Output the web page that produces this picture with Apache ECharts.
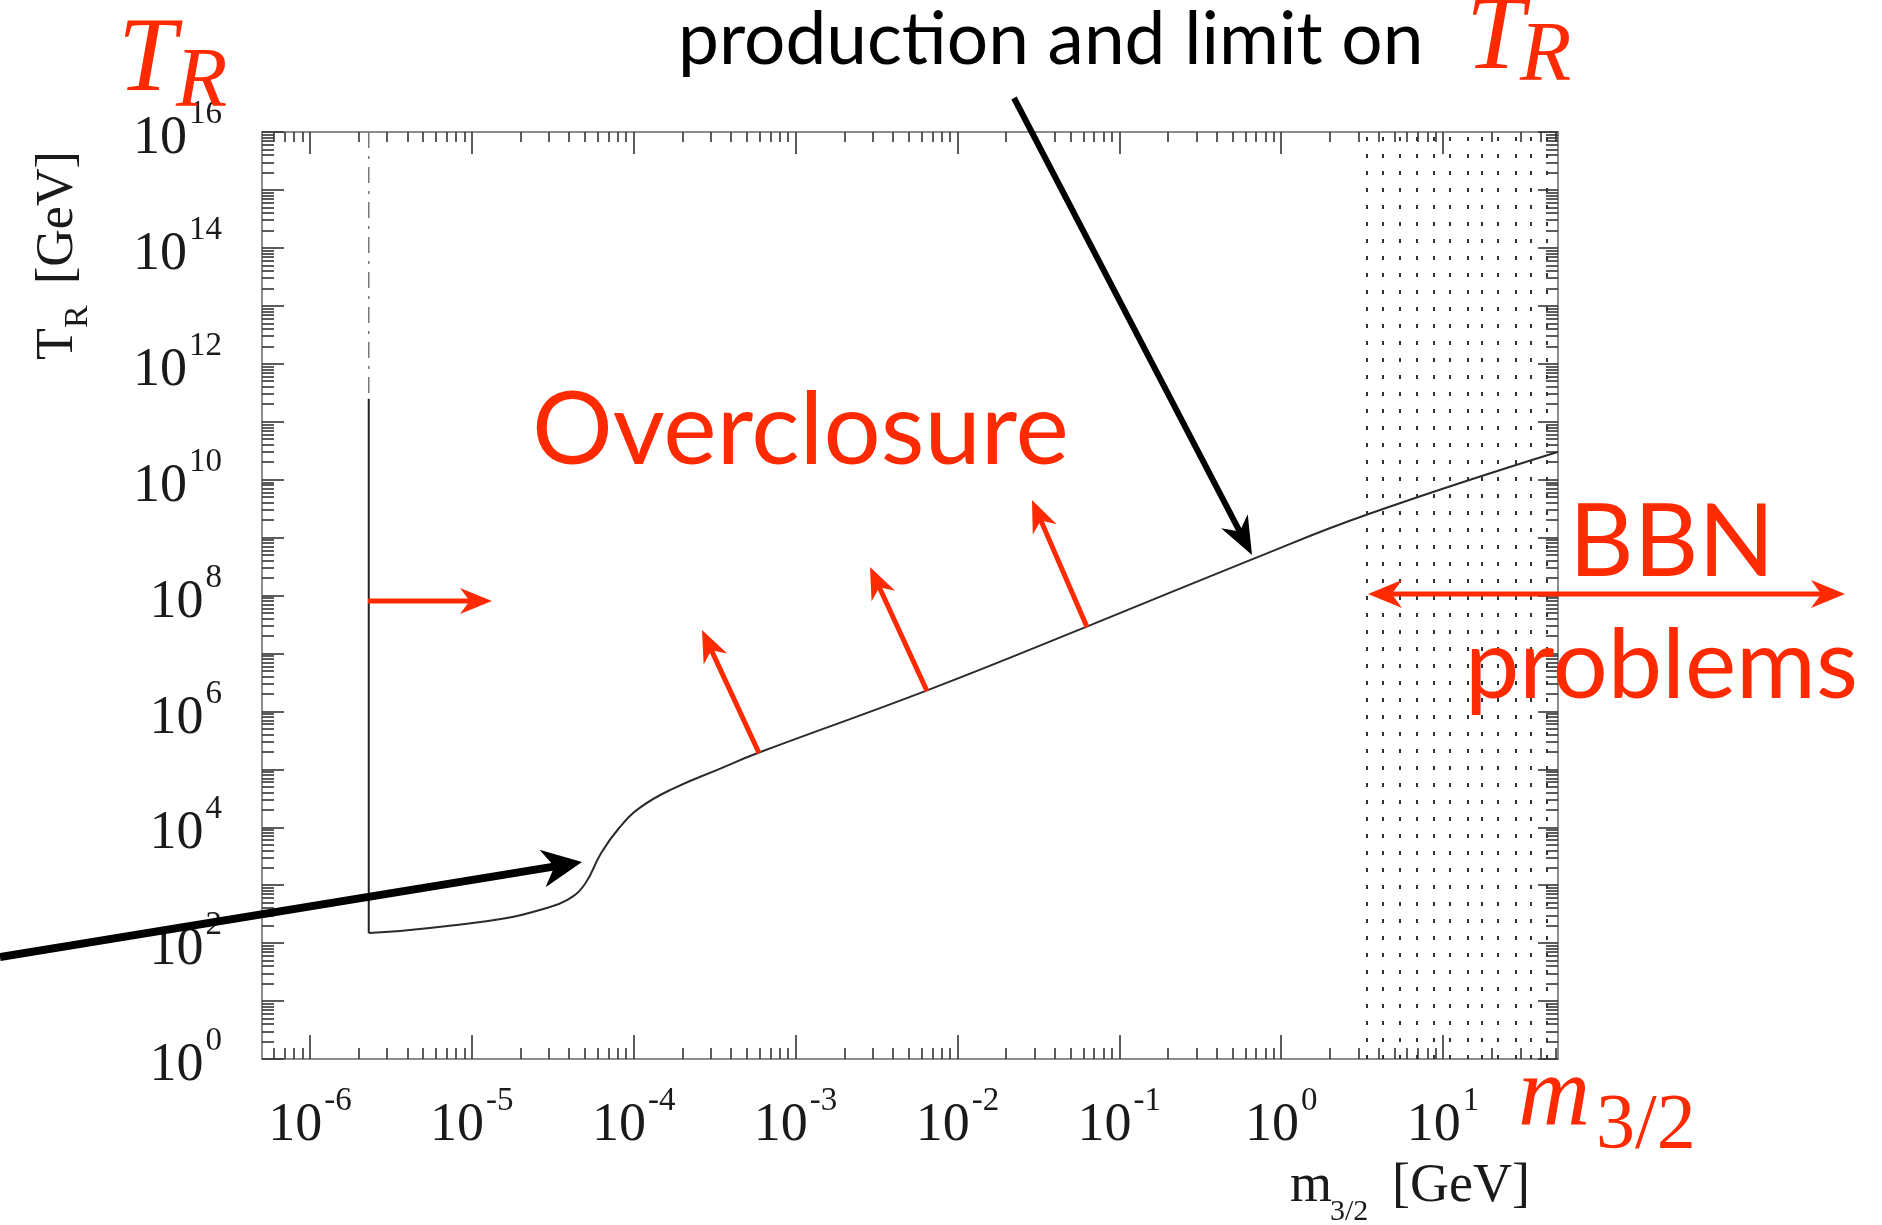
<!DOCTYPE html>
<html>
<head>
<meta charset="utf-8">
<script src="https://cdn.jsdelivr.net/npm/echarts@6/dist/echarts.min.js"></script>
<style>
  html, body { margin: 0; padding: 0; background: #fff; }
  #chart { width: 1882px; height: 1225px; }
</style>
</head>
<body>
<div id="chart"></div>
<script>
// gravitino mass m_3/2 [GeV] vs reheating temperature T_R [GeV]
const wallMassGeV = [2.31e-6, 2.31e-6, 2.31e-6];
const wallTrGeV = [1e16, 2.5e11, 150];

const curveMassGeV = [2.31e-6, 3.6e-6, 7.3e-6, 1.65e-5, 2.63e-5, 3.9e-5, 5.0e-5, 6.3e-5,
  8.2e-5, 1.1e-4, 1.74e-4, 3.4e-4, 5.9e-4, 6.5e-3, 6.3e-2, 0.66, 3.4, 51];
const curveTrGeV = [150, 162, 199, 272, 373, 560, 1050, 3600,
  1.0e4, 2.2e4, 4.6e4, 1.02e5, 1.93e5, 2.3e6, 2.9e7, 4.2e8, 2.5e9, 3.0e10];

// dotted columns of the BBN-excluded band
const bbnMassGeV = [3.4, 4.3, 5.4, 6.9, 8.7, 11, 14, 17.5, 22, 28, 35, 44];

const xRangeGeV = [5.06e-7, 51.3];
const yRangeGeV = [1, 1e16];
const xTickExp = [-6, -5, -4, -3, -2, -1, 0, 1];
const yTickExp = [0, 1, 2, 3, 4, 5, 6, 7, 8, 9, 10, 11, 12, 13, 14, 15, 16];
const yLabelExp = [0, 2, 4, 6, 8, 10, 12, 14, 16];

const lg = Math.log10;
const RED = '#ff2a00';
const SERIF = 'Liberation Serif';
const SANS = 'Lato';

const xMin = lg(xRangeGeV[0]), xMax = lg(xRangeGeV[1]);
const yMin = lg(yRangeGeV[0]), yMax = lg(yRangeGeV[1]);

// log-style minor tick positions (2..9 x 10^n)
function minorTicks(lo, hi) {
  const out = [];
  for (let n = Math.floor(lo) - 1; n <= Math.ceil(hi); n++) {
    for (let k = 2; k <= 9; k++) {
      const v = n + lg(k);
      if (v > lo && v < hi) out.push(v);
    }
  }
  return out;
}

const powLabel = {
  b: { fontFamily: SERIF, fontSize: 54, color: '#1a1a1a', lineHeight: 68, verticalAlign: 'bottom' },
  s: { fontFamily: SERIF, fontSize: 33, color: '#1a1a1a', lineHeight: 50, verticalAlign: 'top', padding: [0, 0, 0, 2] }
};
function fmtPow(v) {
  return '{b|10}{s|' + Math.round(v) + '}';
}

function makeAxis(kind, pos, ticks, len, labels, showLine) {
  const isX = kind === 'x';
  return {
    type: 'value',
    position: pos,
    min: isX ? xMin : yMin,
    max: isX ? xMax : yMax,
    splitLine: { show: false },
    axisLine: { show: showLine, onZero: false, lineStyle: { color: '#8c8c8c', width: 2 } },
    axisTick: {
      show: true, inside: true, length: len, customValues: ticks,
      lineStyle: { color: '#333', width: 1.6 }
    },
    axisLabel: labels ? {
      show: true, customValues: labels, formatter: fmtPow, rich: powLabel,
      margin: isX ? 26 : 40
    } : { show: false }
  };
}

const xMinor = minorTicks(xMin, xMax);
const yMinor = minorTicks(yMin, yMax);

function pairs(xs, ys) {
  return xs.map((m, i) => [lg(m), lg(ys[i])]);
}

const chart = echarts.init(document.getElementById('chart'), null, { renderer: 'canvas' });

// arrow helper for the annotation overlay
function arrow(x1, y1, x2, y2, color, width, L, W, both) {
  const dx = x2 - x1, dy = y2 - y1, d = Math.hypot(dx, dy);
  const ux = dx / d, uy = dy / d, px = -uy, py = ux;
  const head = (tx, ty, sx, sy) => ({
    type: 'polygon', z: 100,
    shape: { points: [
      [tx, ty],
      [tx - sx * L + px * W, ty - sy * L + py * W],
      [tx - sx * L * 0.7, ty - sy * L * 0.7],
      [tx - sx * L - px * W, ty - sy * L - py * W]
    ] },
    style: { fill: color }
  });
  const s = both ? L * 0.6 : 0;
  const els = [{
    type: 'line', z: 100,
    shape: { x1: x1 + ux * s, y1: y1 + uy * s, x2: x2 - ux * L * 0.6, y2: y2 - uy * L * 0.6 },
    style: { stroke: color, lineWidth: width }
  }, head(x2, y2, ux, uy)];
  if (both) els.push(head(x1, y1, -ux, -uy));
  return els;
}

function txt(x, y, text, font, color, rot) {
  return {
    type: 'text', z: 100, x: x, y: y, rotation: rot || 0,
    style: { text: text, font: font, fill: color, textAlign: 'left', textVerticalAlign: 'middle' }
  };
}

const graphics = [].concat(
  // top title fragment
  txt(678, 40, 'production and limit on', '73px ' + SANS, '#000'),
  txt(1466, 40, 'T', 'italic 105px ' + SERIF, RED),
  txt(1520, 58, 'R', 'italic 84px ' + SERIF, RED),
  // corner labels
  txt(118, 62, 'T', 'italic 105px ' + SERIF, RED),
  txt(176, 84, 'R', 'italic 84px ' + SERIF, RED),
  txt(1518, 1098, 'm', 'italic 100px ' + SERIF, RED),
  txt(1596, 1127, '3/2', '78px ' + SERIF, RED),
  // region labels
  txt(532, 431, 'Overclosure', '101px ' + SANS, RED),
  txt(1569, 544, 'BBN', '100px ' + SANS, RED),
  txt(1465, 667, 'problems', '97px ' + SANS, RED),
  // axis titles (as in the scanned figure)
  txt(58, 360, 'T', '52px ' + SERIF, '#1a1a1a', Math.PI / 2),
  txt(78, 328, 'R', '34px ' + SERIF, '#1a1a1a', Math.PI / 2),
  txt(58, 284, '[GeV]', '52px ' + SERIF, '#1a1a1a', Math.PI / 2),
  txt(1290, 1187, 'm', '54px ' + SERIF, '#1a1a1a'),
  txt(1330, 1212, '3/2', '30px ' + SERIF, '#1a1a1a'),
  txt(1392, 1187, '[GeV]', '54px ' + SERIF, '#1a1a1a'),
  // arrows
  arrow(1014, 98, 1252, 555, '#000', 6, 38, 15),
  arrow(0, 957, 582, 862, '#000', 8, 40, 19),
  arrow(368, 601, 492, 601, RED, 5, 32, 13),
  arrow(759, 753, 702, 630, RED, 5, 32, 13),
  arrow(927, 691, 870, 567, RED, 5, 32, 13),
  arrow(1087, 627, 1032, 500, RED, 5, 32, 13),
  arrow(1368, 594, 1845, 594, RED, 5, 34, 14, true)
);

const option = {
  animation: false,
  backgroundColor: '#fff',
  grid: { left: 262, right: 324, top: 132, bottom: 166 },
  xAxis: [
    makeAxis('x', 'bottom', xTickExp, 24, xTickExp, true),
    makeAxis('x', 'bottom', xMinor, 11, null, false),
    makeAxis('x', 'top', xTickExp, 22, null, true),
    makeAxis('x', 'top', xMinor, 10, null, false)
  ],
  yAxis: [
    makeAxis('y', 'left', yTickExp, 22, yLabelExp, true),
    makeAxis('y', 'left', yMinor, 12, null, false),
    makeAxis('y', 'right', yTickExp, 20, null, true),
    makeAxis('y', 'right', yMinor, 12, null, false)
  ],
  series: [
    {
      type: 'line', name: 'wall-upper', symbol: 'none',
      data: pairs(wallMassGeV.slice(0, 2), wallTrGeV.slice(0, 2)),
      lineStyle: { color: '#777', width: 1.5, type: [16, 8, 3, 8] }
    },
    {
      type: 'line', name: 'wall', symbol: 'none',
      data: pairs(wallMassGeV.slice(1), wallTrGeV.slice(1)),
      lineStyle: { color: '#222', width: 2 }
    },
    {
      type: 'line', name: 'limit', symbol: 'none', smooth: 0.45,
      data: pairs(curveMassGeV, curveTrGeV),
      lineStyle: { color: '#2a2a2a', width: 2 },
      markLine: {
        silent: true, symbol: 'none', label: { show: false },
        lineStyle: { color: '#333', width: 2, type: [4, 13] },
        data: bbnMassGeV.map(m => ({ xAxis: lg(m) }))
      }
    }
  ],
  graphic: graphics
};

chart.setOption(option);
</script>
</body>
</html>
